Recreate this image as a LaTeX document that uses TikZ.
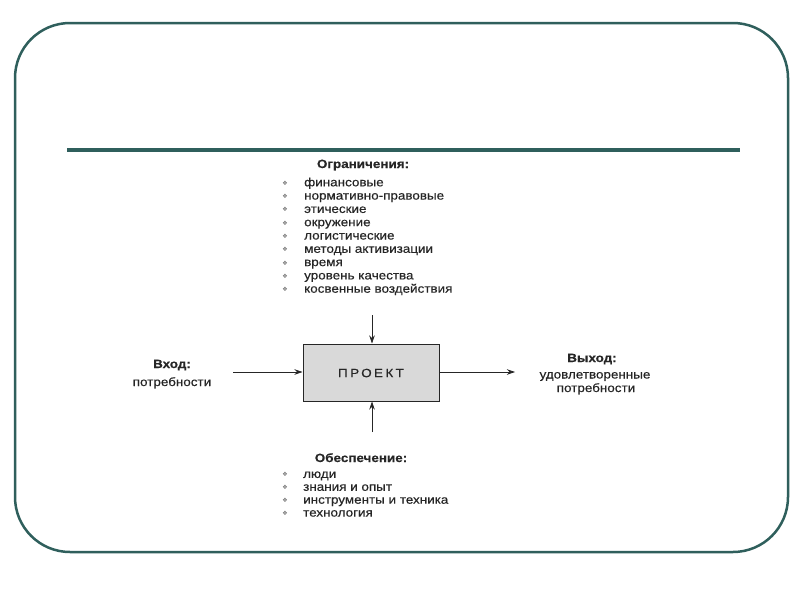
\documentclass[tikz,border=0pt]{standalone}
\usepackage{fontspec}
\setmainfont{Liberation Sans}
\newfontfamily\symfont{DejaVu Sans}
\usetikzlibrary{arrows.meta}
\definecolor{frame}{HTML}{2F5F5C}
\definecolor{ink}{HTML}{262626}
\newcommand{\mytextfont}{\fontsize{12}{14}\selectfont\addfontfeature{FakeStretch=1.12,FakeBold=0.4}}
\tikzset{
  txt/.style={text=ink, font=\mytextfont, inner sep=0pt, anchor=base},
  hdr/.style={txt, font=\mytextfont\bfseries},
  item/.style={txt, anchor=base west},
  bul/.style={text=ink!65, font=\symfont\fontsize{6}{7}\selectfont, inner sep=0pt, anchor=base},
  conn/.style={draw=ink, line width=0.8pt, -{Stealth[length=8pt,width=5.5pt]}},
}
\newcommand{\mybul}{\raisebox{1pt}{❖}}
\begin{document}
\begin{tikzpicture}[x=1pt,y=-1pt]
\useasboundingbox (0,0) rectangle (800,600);
\fill[white] (0,0) rectangle (800,600);
\draw[frame, line width=2.5pt, rounded corners=55pt] (15,23) rectangle (788,552);
\draw[frame, line width=3.5pt] (67,150) -- (740,150);

% top list
\node[hdr] (hTop) at (363,168) {Ограничения:};
\foreach \t [count=\i] in {финансовые,нормативно-правовые,этические,окружение,логистические,методы активизации,время,уровень качества,косвенные воздействия}{
  \node[item] (t\i) at (304,{173+13.3*\i}) {\t};
  \node[bul] (tb\i) at (285,{173+13.3*\i}) {\mybul};
}

% box
\node[draw=ink, line width=1pt, fill=gray!30, minimum width=136pt, minimum height=57pt, inner sep=0pt] (box) at (371,372.5) {};
\node[txt, anchor=center, font=\mytextfont\addfontfeature{LetterSpace=20}] (lbl) at (371,373) {ПРОЕКТ};

\coordinate (topS) at (372,315);
\coordinate (botS) at (372,432);
\coordinate (inS) at (233,372);
\coordinate (outE) at (515,372);
\draw[conn] (topS) -- (topS |- box.north);
\draw[conn] (botS) -- (botS |- box.south);
\draw[conn] (inS) -- (inS -| box.west);
\draw[conn] (box.east |- outE) -- (outE);

% input / output
\node[hdr] (hIn) at (172,368) {Вход:};
\node[txt] (in1) at (172,386) {потребности};
\node[hdr] (hOut) at (592,362) {Выход:};
\node[txt] (out1) at (595,378.5) {удовлетворенные};
\node[txt] (out2) at (596,392) {потребности};

% bottom list
\node[hdr] (hBot) at (361,462) {Обеспечение:};
\foreach \t [count=\i] in {люди,знания и опыт,инструменты и техника,технология}{
  \node[item] (b\i) at (303,{465+12.9*\i}) {\t};
  \node[bul] (bb\i) at (285,{465+12.9*\i}) {\mybul};
}
\end{tikzpicture}
\end{document}
